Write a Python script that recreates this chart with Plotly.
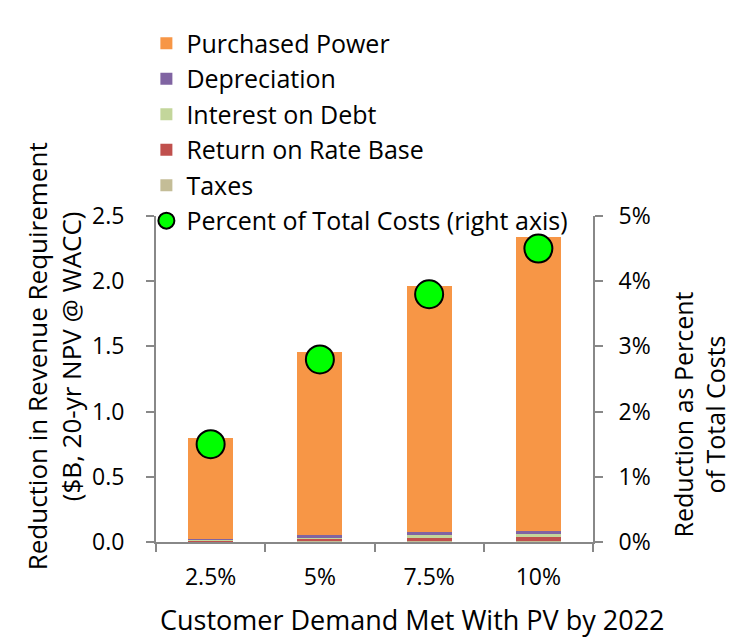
import plotly.graph_objects as go

categories = ["2.5%", "5%", "7.5%", "10%"]
taxes = [0.003, 0.005, 0.008, 0.010]
return_on_rate_base = [0.010, 0.018, 0.025, 0.025]
interest_on_debt = [0.005, 0.015, 0.020, 0.023]
depreciation = [0.008, 0.015, 0.023, 0.025]
purchased_power = [0.769, 1.402, 1.884, 2.257]
percent_of_total = [0.015, 0.028, 0.038, 0.045]

FONT = "Open Sans"

fig = go.Figure()

bar_series = [
    ("Taxes", taxes, "#C4BD97", 5),
    ("Return on Rate Base", return_on_rate_base, "#C0504D", 4),
    ("Interest on Debt", interest_on_debt, "#C3D69B", 3),
    ("Depreciation", depreciation, "#8064A2", 2),
    ("Purchased Power", purchased_power, "#F79646", 1),
]
for name, vals, color, rank in bar_series:
    fig.add_trace(go.Bar(
        x=categories, y=vals, name=name, marker_color=color,
        marker_line_width=0, width=0.41, legendrank=rank, legendgroup=name,
    ))

fig.add_trace(go.Scatter(
    x=categories, y=percent_of_total, yaxis="y2", mode="markers",
    name="Percent of Total Costs (right axis)", legendrank=6,
    legendgroup="pct",
    marker=dict(color="#00FF00", size=28, line=dict(color="black", width=2)),
))

axis_style = dict(showline=True, linecolor="#888888", linewidth=2,
                  ticks="outside", ticklen=8, tickcolor="#888888", tickwidth=2,
                  automargin=False, tickfont=dict(size=23))

# page body adds an 8px offset, so the figure is 8px smaller than the window
fig.update_layout(
    width=727, height=632,
    barmode="stack",
    plot_bgcolor="white", paper_bgcolor="white",
    font=dict(family=FONT, size=23, color="black"),
    margin=dict(l=148, r=142, t=208, b=98),
    showlegend=True,
    legend=dict(x=-0.022, xanchor="left", y=1.6, yanchor="top",
                font=dict(size=25), tracegroupgap=0,
                bgcolor="rgba(0,0,0,0)", itemwidth=30),
    xaxis=dict(**axis_style, tickson="boundaries", ticklabelstandoff=13),
    yaxis=dict(
        **axis_style, range=[0, 2.5], dtick=0.5, tickformat=".1f",
        showgrid=False, zeroline=False, ticklabelstandoff=17,
    ),
    yaxis2=dict(
        **axis_style, range=[0, 0.05], dtick=0.01, tickformat=".0%",
        overlaying="y", side="right",
        showgrid=False, zeroline=False, ticklabelstandoff=11,
    ),
    annotations=[
        dict(text="Customer Demand Met With PV by 2022",
             xref="paper", yref="paper", x=0.588, y=-0.239,
             xanchor="center", yanchor="middle",
             showarrow=False, font=dict(size=27)),
        dict(text="Reduction in Revenue Requirement<br>($B, 20-yr NPV @ WACC)",
             xref="paper", yref="paper", x=-0.233, y=0.57,
             xanchor="center", yanchor="middle", textangle=-90,
             showarrow=False, font=dict(size=26)),
        dict(text="Reduction as Percent<br>of Total Costs",
             xref="paper", yref="paper", x=1.244, y=0.39,
             xanchor="center", yanchor="middle", textangle=-90,
             showarrow=False, font=dict(size=25)),
    ],
)

fig.write_html("out.html")
